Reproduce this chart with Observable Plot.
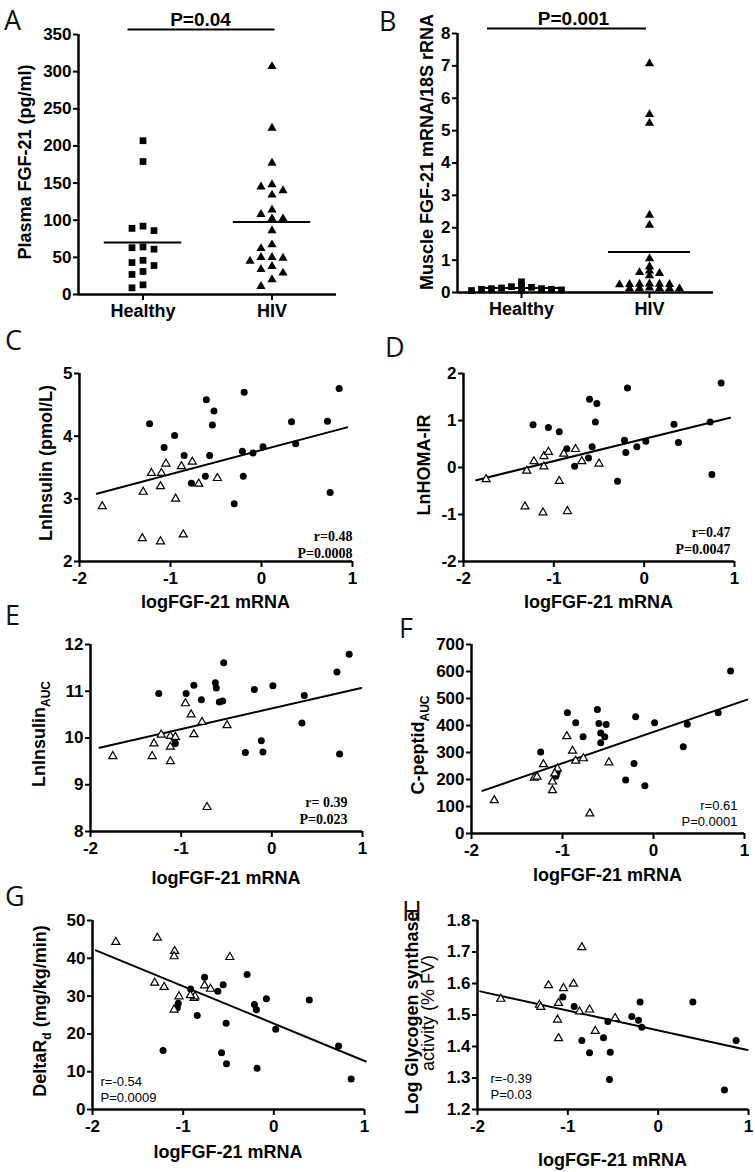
<!DOCTYPE html>
<html><head><meta charset="utf-8">
<script src="https://cdn.jsdelivr.net/npm/d3@7"></script>
<script src="https://cdn.jsdelivr.net/npm/@observablehq/plot@0.6"></script>
<style>
body{margin:0;background:#fff;}
#fig{position:relative;width:755px;height:1172px;overflow:hidden;background:#fff;}
#fig svg{position:absolute;overflow:visible;}
#fig svg g[aria-label="x-axis tick label"], #fig svg g[aria-label="y-axis tick label"]{font-weight:bold;font-size:17px;font-family:"Liberation Sans", Arial, sans-serif;}
</style></head><body><div id="fig"></div>
<script>
// ---------------- DATA ----------------
const groups = ["Healthy", "HIV"];
// Panel A: plasma FGF-21 (pg/ml)
const plasmaHealthy = [207, 179, 92, 86, 89, 63, 61, 64, 43, 46, 39, 31, 27, 13, 9];
const plasmaHIV = [307, 224, 177, 145, 134, 140, 148, 108, 114, 102, 102, 86, 67, 62, 45, 50, 49, 50, 34, 38, 29, 20, 11];
// Panel B: muscle FGF-21 mRNA / 18S rRNA
const muscleHealthy = [0.33, 0.2, 0.18, 0.16, 0.14, 0.12, 0.12, 0.1, 0.1, 0.08, 0.07, 0.06];
const muscleHIV = [7.07, 5.5, 5.23, 2.39, 2.08, 1.05, 0.8, 0.67, 0.62, 0.59, 0.52, 0.27, 0.26, 0.25, 0.25, 0.24, 0.26, 0.13, 0.12, 0.14, 0.12, 0.13, 0.12];
const pValueA = "P=0.04";
const pValueB = "P=0.001";

// Scatter panels: [logFGF-21 mRNA, outcome]
const insulinHIV = [[-1.23,4.20],[-0.955,4.01],[-1.07,3.82],[-0.85,3.69],[-0.606,4.58],[-0.522,4.40],[-0.54,4.18],[-0.57,3.69],[-0.617,3.36],[-0.77,3.25],[-0.19,4.70],[-0.21,3.76],[-0.20,3.36],[-0.30,2.92],[-0.093,3.73],[0.017,3.83],[0.33,4.23],[0.376,3.88],[0.725,4.24],[0.853,4.76],[0.754,3.10]];
const insulinHealthy = [[-1.75,2.88],[-1.30,3.11],[-1.21,3.41],[-1.10,3.41],[-1.05,3.56],[-1.11,3.20],[-0.944,3.00],[-0.88,3.52],[-0.76,3.59],[-0.69,3.24],[-0.485,3.33],[-1.31,2.37],[-1.11,2.32],[-0.86,2.43]];
const insulinFit = [[-1.81,3.08],[0.94,4.14]];
const insulinStats = ["r=0.48", "P=0.0008"];

const homaHIV = [[-1.23,0.91],[-1.06,0.85],[-0.94,0.76],[-0.856,0.40],[-0.77,0.025],[-0.605,1.45],[-0.524,1.36],[-0.54,0.97],[-0.576,0.44],[-0.616,0.20],[-0.185,1.69],[-0.218,0.58],[-0.203,0.32],[-0.295,-0.29],[-0.081,0.44],[0.018,0.56],[0.33,0.92],[0.38,0.53],[0.73,0.97],[0.852,1.80],[0.75,-0.15]];
const homaHealthy = [[-1.75,-0.25],[-1.30,-0.07],[-1.22,0.13],[-1.11,0.02],[-1.11,0.24],[-1.06,0.33],[-0.89,0.29],[-0.76,0.39],[-0.69,0.13],[-0.50,0.08],[-0.94,-0.29],[-1.32,-0.83],[-1.12,-0.96],[-0.85,-0.93]];
const homaFit = [[-1.86,-0.27],[0.952,1.06]];
const homaStats = ["r=0.47", "P=0.0047"];

const insAucHIV = [[-1.247,10.95],[-0.946,10.95],[-0.86,11.13],[-0.777,10.82],[-0.623,11.18],[-0.612,11.07],[-0.531,11.61],[-0.579,10.77],[-0.542,10.79],[-1.064,9.88],[-1.07,9.96],[-0.193,11.04],[0.012,11.12],[0.358,10.91],[0.332,10.32],[-0.116,9.94],[-0.292,9.69],[-0.098,9.70],[0.718,11.41],[0.853,11.79],[0.747,9.66]];
const insAucHealthy = [[-1.754,9.61],[-1.32,9.61],[-1.30,9.88],[-1.22,10.07],[-1.119,10.04],[-1.119,9.81],[-1.119,9.5],[-1.064,10.02],[-0.953,10.74],[-0.89,10.5],[-0.86,10.08],[-0.77,10.34],[-0.494,10.27],[-0.715,8.52]];
const insAucFit = [[-1.90,9.79],[0.986,11.07]];
const insAucStats = ["r= 0.39", "P=0.023"];

const cpepHIV = [[-1.24,302],[-0.946,447],[-0.855,410],[-0.774,358],[-0.617,459],[-0.60,407],[-0.58,372],[-0.536,358],[-0.58,336],[-0.52,404],[-1.074,212],[-1.06,225],[-0.196,432],[0.012,410],[0.327,321],[0.371,405],[-0.214,259],[-0.306,198],[-0.095,177],[0.711,447],[0.847,602]];
const cpepHealthy = [[-1.75,123],[-1.31,206],[-1.21,256],[-1.11,192],[-1.11,160],[-1.056,240],[-0.953,360],[-0.89,306],[-0.855,269],[-0.77,278],[-0.49,263],[-0.70,74],[-1.085,222],[-1.28,210]];
const cpepFit = [[-1.88,158],[1.03,496]];
const cpepStats = ["r=0.61", "P=0.0001"];

const rdHealthy = [[-1.743,44.3],[-1.285,45.4],[-1.094,41.9],[-1.10,40.5],[-0.485,40.3],[-1.314,33.5],[-1.21,32.4],[-1.046,29.9],[-1.10,26.4],[-0.88,29.5],[-0.87,29.9],[-0.764,32.8],[-0.698,31.9],[-0.92,30.2]];
const rdHIV = [[-0.918,31.9],[-0.764,35.0],[-0.617,31.3],[-0.559,33.0],[-1.054,28.1],[-1.065,26.9],[-0.845,24.9],[-0.526,22.8],[-1.222,15.6],[-0.576,15.0],[-0.522,12.1],[-0.295,35.7],[-0.214,27.8],[-0.192,26.4],[-0.082,29.3],[0.021,21.2],[-0.185,10.9],[0.391,29.0],[0.714,16.8],[0.853,8.1]];
const rdFit = [[-1.963,42.1],[1.015,12.7]];
const rdStats = ["r=-0.54", "P=0.0009"];

const gsHealthy = [[-1.742,1.551],[-1.314,1.532],[-1.30,1.525],[-1.214,1.594],[-1.048,1.585],[-0.937,1.599],[-1.103,1.538],[-1.114,1.485],[-1.103,1.426],[-0.845,1.715],[-0.871,1.511],[-0.76,1.517],[-0.697,1.449],[-0.476,1.49]];
const gsHIV = [[-1.055,1.557],[-0.93,1.527],[-0.845,1.419],[-0.76,1.380],[-0.605,1.428],[-0.557,1.479],[-0.531,1.382],[-0.539,1.295],[-0.292,1.495],[-0.20,1.541],[-0.218,1.483],[-0.181,1.461],[0.384,1.541],[0.863,1.419],[0.734,1.262]];
const gsFit = [[-1.97,1.575],[0.989,1.389]];
const gsStats = ["r=-0.39", "P=0.03"];

const xTicks = [-2, -1, 0, 1];
const xTitle = "logFGF-21 mRNA";

// ---------------- DRAWING ----------------
const fig = document.getElementById("fig");
const SANS = '"Liberation Sans", Arial, sans-serif';
const LETTER = '"Open Sans", "Noto Sans", sans-serif';
const baseStyle = {background: "transparent", fontFamily: SANS, fontWeight: "bold", fontSize: "17px", color: "black", overflow: "visible"};

function place(svg, left, top) {
  svg.style.left = left + "px";
  svg.style.top = top + "px";
  fig.appendChild(svg);
}
function letter(ch, x, y) {
  d3.select(fig).append("div")
    .style("position", "absolute").style("left", x + "px").style("top", y + "px")
    .style("font-family", LETTER).style("font-size", "27px").style("line-height", "1")
    .style("color", "#111").text(ch);
}
// vertical (rotated) label made of parts [{t, sub}]
function yLabel(svg, bx, by, x, y, lines) {
  const g = d3.select(svg).append("g")
    .attr("transform", `translate(${x - bx},${y - by}) rotate(-90)`);
  lines.forEach((ln) => {
    const t = g.append("text").attr("text-anchor", "middle").attr("x", 0).attr("y", ln.dy || 0)
      .attr("font-family", SANS).attr("font-size", 18).attr("font-weight", ln.weight || "bold").attr("fill", "black");
    ln.parts.forEach((p) => {
      if (p.sub) {
        t.append("tspan").attr("dy", 5).attr("font-size", 12).text(p.t);
      } else {
        const ts = t.append("tspan").text(p.t);
        if (p.after) ts.attr("dy", -5);
      }
    });
  });
}

// simple swarm: offsets (in steps) so markers at similar values sit side by side
function swarm(values, yScale, thresh) {
  const order = d3.range(values.length).sort((a, b) => values[b] - values[a]);
  const placed = [];
  const off = new Array(values.length).fill(0);
  const cands = [0, -1, 1, -2, 2, -3, 3, -4, 4, -5, 5, -6, 6];
  for (const i of order) {
    const py = yScale(values[i]);
    for (const k of cands) {
      if (!placed.some((p) => p.k === k && Math.abs(p.py - py) < thresh)) {
        placed.push({k, py}); off[i] = k; break;
      }
    }
  }
  return off;
}

function columnPanel(cfg) {
  const [bl, bt, bw, bh] = cfg.box;
  const [fl, fr, ft, fb] = cfg.frame;
  const yScale = d3.scaleLinear(cfg.yDomain, [fb, ft]);
  const unit = (fr - fl) / 2;
  const pts = [];
  [cfg.healthy, cfg.hiv].forEach((vals, gi) => {
    const off = swarm(vals, yScale, cfg.thresh);
    vals.forEach((v, i) => pts.push({g: gi, v, x: gi + off[i] * cfg.step / unit}));
  });
  const means = [cfg.healthy, cfg.hiv].map((vals, gi) => ({g: gi, m: d3.mean(vals)}));
  const svg = Plot.plot({
    width: bw, height: bh,
    marginLeft: fl - bl, marginRight: bl + bw - fr, marginTop: ft - bt, marginBottom: bt + bh - fb,
    x: {domain: [-0.5, 1.5]},
    y: {domain: cfg.yDomain},
    style: baseStyle,
    marks: [
      Plot.ruleX([-0.5], {strokeWidth: 2.5}),
      Plot.ruleY([cfg.yDomain[0]], {strokeWidth: 2.5}),
      Plot.axisY({ticks: cfg.yTicks, tickFormat: (d) => String(d), tickSize: 5, tickPadding: 2, strokeWidth: 2, fontSize: 17, fontWeight: "bold", label: null}),
      Plot.axisX({ticks: [0, 1], tickFormat: (i) => groups[i], tickSize: 6, tickPadding: 4, strokeWidth: 2, fontSize: 18, fontWeight: "bold", label: null}),
      Plot.ruleY(means, {y: "m", x1: (d) => d.g - cfg.meanHalf, x2: (d) => d.g + cfg.meanHalf, strokeWidth: 2}),
      Plot.dot(pts.filter((d) => d.g === 0), {x: "x", y: "v", symbol: "square", r: 3.8, fill: "black"}),
      Plot.dot(pts.filter((d) => d.g === 1), {x: "x", y: "v", symbol: "triangle", r: 3.4, fill: "black"}),
      Plot.ruleY([cfg.yDomain[1]], {x1: 0, x2: 1, dy: -5, insetLeft: cfg.barInset[0], insetRight: cfg.barInset[1], strokeWidth: 2}),
      Plot.text([cfg.pValue], {x: 0.5, y: cfg.yDomain[1], dx: cfg.pDx, dy: -9, lineAnchor: "bottom", fontSize: 19, fontWeight: "bold"})
    ]
  });
  place(svg, bl, bt);
  d3.select(svg).selectAll('g[aria-label="x-axis tick label"]').style("font-size", "18px");
  yLabel(svg, bl, bt, cfg.label.x, cfg.label.y, cfg.label.lines);
}

function scatterPanel(cfg) {
  const [bl, bt, bw, bh] = cfg.box;
  const [fl, fr, ft, fb] = cfg.frame;
  const svg = Plot.plot({
    width: bw, height: bh,
    marginLeft: fl - bl, marginRight: bl + bw - fr, marginTop: ft - bt, marginBottom: bt + bh - fb,
    x: {domain: [-2, 1]},
    y: {domain: cfg.yDomain},
    style: baseStyle,
    marks: [
      Plot.ruleX([-2], {strokeWidth: 2.5}),
      Plot.ruleY([cfg.yDomain[0]], {strokeWidth: 2.5}),
      Plot.axisY({ticks: cfg.yTicks, tickFormat: cfg.yFormat || ((d) => String(d)), tickSize: 5, tickPadding: 2, strokeWidth: 2, fontSize: 17, fontWeight: "bold", label: null}),
      Plot.axisX({ticks: xTicks, tickFormat: (d) => String(d), tickSize: 6, tickPadding: 4, strokeWidth: 2, fontSize: 17, fontWeight: "bold", label: null}),
      Plot.line(cfg.fit, {x: (d) => d[0], y: (d) => d[1], strokeWidth: 2}),
      Plot.dot(cfg.hiv, {x: (d) => d[0], y: (d) => d[1], r: 3.5, fill: "black"}),
      Plot.dot(cfg.healthy, {x: (d) => d[0], y: (d) => d[1], symbol: "triangle", r: 3, fill: "white", stroke: "black", strokeWidth: 1.2}),
      Plot.text([cfg.stats.join("\n")], {
        frameAnchor: cfg.statsAnchor, textAnchor: cfg.statsAnchor.endsWith("right") ? "end" : "start",
        lineAnchor: "bottom", dx: cfg.statsDx, dy: cfg.statsDy, lineHeight: 1.2,
        fontSize: cfg.statsSize, fontFamily: cfg.statsFont, fontWeight: cfg.statsWeight
      })
    ]
  });
  place(svg, bl, bt);
  yLabel(svg, bl, bt, cfg.label.x, cfg.label.y, cfg.label.lines);
  d3.select(svg).append("text").attr("x", (fl + fr) / 2 - bl).attr("y", cfg.titleY - bt)
    .attr("text-anchor", "middle").attr("font-family", SANS).attr("font-size", 18).attr("font-weight", "bold")
    .attr("fill", "black").text(xTitle);
}

columnPanel({box: [0, 0, 378, 330], frame: [78, 336, 34, 294], yDomain: [0, 350], yTicks: d3.range(0, 351, 50),
  healthy: plasmaHealthy, hiv: plasmaHIV, step: 11, thresh: 7, meanHalf: 0.3,
  pValue: pValueA, barInset: [-15, -3], pDx: -7,
  label: {x: 31, y: 162, lines: [{parts: [{t: "Plasma FGF-21 (pg/ml)"}]}]}});
columnPanel({box: [378, 0, 377, 330], frame: [457, 713, 33, 292], yDomain: [0, 8], yTicks: d3.range(0, 9),
  healthy: muscleHealthy, hiv: muscleHIV, step: 10, thresh: 4, meanHalf: 0.32,
  pValue: pValueB, barInset: [-34, 3], pDx: -12,
  label: {x: 433, y: 152, lines: [{parts: [{t: "Muscle FGF-21 mRNA/18S rRNA"}]}]}});

const serifStats = {statsFont: '"Liberation Serif", "Times New Roman", serif', statsWeight: "bold", statsSize: 14};
const plainStats = {statsFont: SANS, statsWeight: "normal", statsSize: 13};

scatterPanel({box: [0, 330, 378, 285], frame: [79, 352, 373, 561], yDomain: [2, 5], yTicks: [2, 3, 4, 5],
  hiv: insulinHIV, healthy: insulinHealthy, fit: insulinFit, stats: insulinStats,
  statsAnchor: "bottom-right", statsDx: 0, statsDy: -4, ...serifStats, titleY: 608,
  label: {x: 52, y: 463, lines: [{parts: [{t: "LnInsulin (pmol/L)"}]}]}});
scatterPanel({box: [378, 330, 377, 285], frame: [463, 734, 373, 561], yDomain: [-2, 2], yTicks: [-2, -1, 0, 1, 2],
  hiv: homaHIV, healthy: homaHealthy, fit: homaFit, stats: homaStats,
  statsAnchor: "bottom-right", statsDx: -4, statsDy: -8, ...serifStats, titleY: 608,
  label: {x: 430, y: 465, lines: [{parts: [{t: "LnHOMA-IR"}]}]}});
scatterPanel({box: [0, 605, 378, 285], frame: [90, 362, 644, 831], yDomain: [8, 12], yTicks: [8, 9, 10, 11, 12],
  hiv: insAucHIV, healthy: insAucHealthy, fit: insAucFit, stats: insAucStats,
  statsAnchor: "bottom-right", statsDx: -15, statsDy: -8, ...serifStats, titleY: 884,
  label: {x: 45, y: 734, lines: [{parts: [{t: "LnInsulin"}, {t: "AUC", sub: true}]}]}});
scatterPanel({box: [378, 605, 377, 285], frame: [471, 744, 644, 833], yDomain: [0, 700], yTicks: d3.range(0, 701, 100),
  hiv: cpepHIV, healthy: cpepHealthy, fit: cpepFit, stats: cpepStats,
  statsAnchor: "bottom-right", statsDx: -7, statsDy: -8, ...plainStats, titleY: 881,
  label: {x: 424, y: 745, lines: [{parts: [{t: "C-peptid"}, {t: "AUC", sub: true}]}]}});
scatterPanel({box: [0, 885, 378, 287], frame: [92, 364, 920, 1109], yDomain: [0, 50], yTicks: d3.range(0, 51, 10),
  hiv: rdHIV, healthy: rdHealthy, fit: rdFit, stats: rdStats,
  statsAnchor: "bottom-left", statsDx: 8, statsDy: -8, ...plainStats, titleY: 1158,
  label: {x: 46, y: 1011, lines: [{parts: [{t: "DeltaR"}, {t: "d", sub: true}, {t: " (mg/kg/min)", after: true}]}]}});
scatterPanel({box: [378, 885, 377, 287], frame: [477, 748, 920, 1109], yDomain: [1.2, 1.8], yTicks: [1.2, 1.3, 1.4, 1.5, 1.6, 1.7, 1.8],
  yFormat: (d) => d.toFixed(1),
  hiv: gsHIV, healthy: gsHealthy, fit: gsFit, stats: gsStats,
  statsAnchor: "bottom-left", statsDx: 13, statsDy: -11, ...plainStats, titleY: 1166,
  label: {x: 418, y: 1013, lines: [{parts: [{t: "Log Glycogen synthase"}]}, {dy: 16, weight: "normal", parts: [{t: "activity (% FV)"}]}]}});

// panel letters
letter("A", 4, 6);
letter("B", 379, 7);
letter("C", 5, 326);
letter("D", 385, 333);
letter("E", 5, 601);
letter("F", 399, 614);
letter("G", 5, 882);
letter("H", 402, 897);
</script>
</body></html>
